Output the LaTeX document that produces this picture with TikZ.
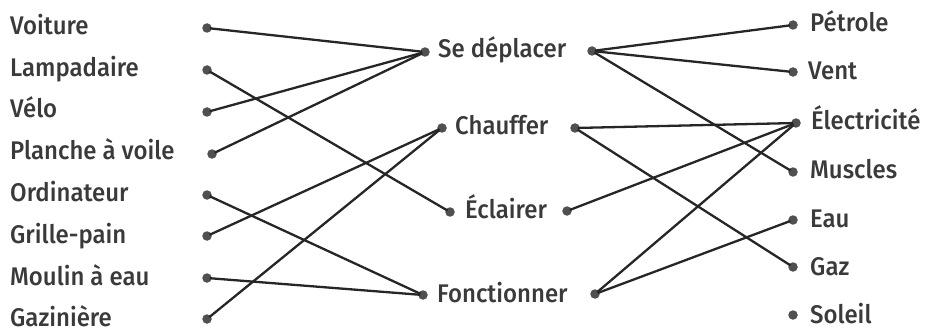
\documentclass[tikz,border=0pt]{standalone}
\usepackage{fontspec}
\setmainfont{Fira Sans Medium}[FakeStretch=0.94]
\definecolor{ink}{HTML}{3A3A3A}
\definecolor{dotc}{HTML}{505050}
\begin{document}
\begin{tikzpicture}[x=1pt,y=-1pt,
 lbl/.style={inner sep=0pt, anchor=base west, font=\fontsize{25.5}{26}\selectfont, text=ink},
 dot/.style={circle, fill=dotc, inner sep=0pt, minimum size=9.5pt},
 link/.style={line width=2.3pt, draw=black!85, shorten <=-2pt, shorten >=-2pt}]
\useasboundingbox (0,0) rectangle (934,334);
% left column
\node[lbl] (tVoiture) at (10,35) {Voiture};
\node[lbl] (tLamp) at (10,77) {Lampadaire};
\node[lbl] (tVelo) at (10,118) {Vélo};
\node[lbl] (tPlanche) at (10,160) {Planche à voile};
\node[lbl] (tOrdi) at (10,201) {Ordinateur};
\node[lbl] (tGrille) at (10,243) {Grille-pain};
\node[lbl] (tMoulin) at (10,285) {Moulin à eau};
\node[lbl] (tGaz) at (10,326) {Gazinière};
\node[dot] (dVoiture) at (207,28) {};
\node[dot] (dLamp) at (207,70) {};
\node[dot] (dVelo) at (207,112) {};
\node[dot] (dPlanche) at (212,154) {};
\node[dot] (dOrdi) at (207,195) {};
\node[dot] (dGrille) at (207,236) {};
\node[dot] (dMoulin) at (207,278) {};
\node[dot] (dGaz) at (207,319) {};
% middle column
\node[lbl] (tSe) at (438,58) {Se déplacer};
\node[lbl] (tCh) at (455,135) {Chauffer};
\node[lbl] (tEc) at (465,218) {Éclairer};
\node[lbl] (tFo) at (437,302) {Fonctionner};
\node[dot] (SeL) at (425,52) {};
\node[dot] (SeR) at (592,51) {};
\node[dot] (ChL) at (442,128) {};
\node[dot] (ChR) at (575,128) {};
\node[dot] (EcL) at (450,212) {};
\node[dot] (EcR) at (567,211) {};
\node[dot] (FoL) at (423,295) {};
\node[dot] (FoR) at (595,294) {};
% right column
\node[lbl] (tPet) at (810,32) {Pétrole};
\node[lbl] (tVent) at (808,80) {Vent};
\node[lbl] (tElec) at (811,130) {Électricité};
\node[lbl] (tMus) at (810,178) {Muscles};
\node[lbl] (tEau) at (810,227) {Eau};
\node[lbl] (tGazR) at (810,275) {Gaz};
\node[lbl] (tSol) at (810,323) {Soleil};
\node[dot] (rPet) at (793,25) {};
\node[dot] (rVent) at (793,72) {};
\node[dot] (rElec) at (796,123) {};
\node[dot] (rMus) at (793,172) {};
\node[dot] (rEau) at (793,220) {};
\node[dot] (rGaz) at (793,267) {};
\node[dot] (rSol) at (793,315) {};
% links left
\draw[link] (dVoiture) -- (SeL);
\draw[link] (dLamp) -- (EcL);
\draw[link] (dVelo) -- (SeL);
\draw[link] (dPlanche) -- (SeL);
\draw[link] (dOrdi) -- (FoL);
\draw[link] (dGrille) -- (ChL);
\draw[link] (dMoulin) -- (FoL);
\draw[link] (dGaz) -- (ChL);
% links right
\draw[link] (SeR) -- (rPet);
\draw[link] (SeR) -- (rVent);
\draw[link] (SeR) -- (rMus);
\draw[link] (ChR) -- (rElec);
\draw[link] (ChR) -- (rGaz);
\draw[link] (EcR) -- (rElec);
\draw[link] (FoR) -- (rElec);
\draw[link] (FoR) -- (rEau);
\end{tikzpicture}
\end{document}
